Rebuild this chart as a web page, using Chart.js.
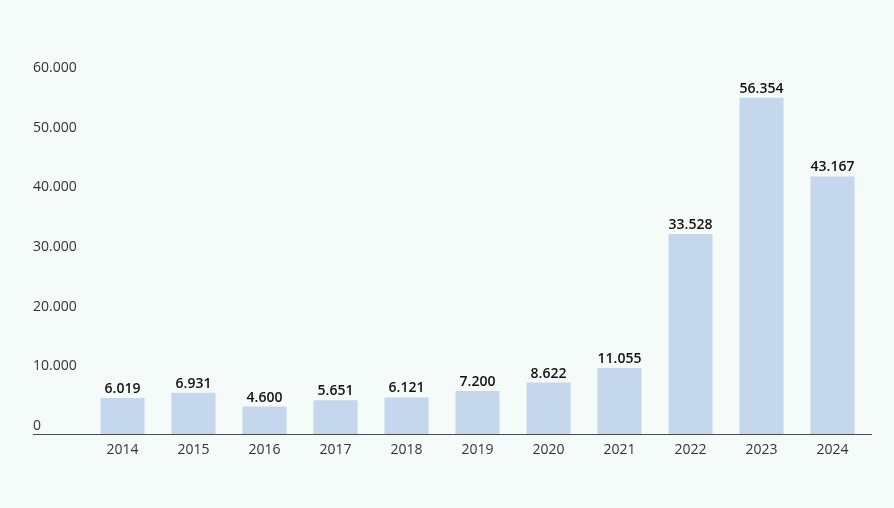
<!DOCTYPE html>
<html lang="pt-BR">
<head>
  <meta charset="UTF-8">
  <title>Evolução anual</title>
  <script src="https://cdn.jsdelivr.net/npm/chart.js@4.4.1/dist/chart.umd.min.js"></script>
  <style>
    html, body { margin: 0; padding: 0; background: #f5fbf9; }
    .chart-container { width: 894px; height: 508px; }
  </style>
</head>
<body>
  <div class="chart-container">
    <canvas id="bar-chart"></canvas>
  </div>

  <script>
    const anos = ['2014', '2015', '2016', '2017', '2018', '2019', '2020', '2021', '2022', '2023', '2024'];
    const valores = [6019, 6931, 4600, 5651, 6121, 7200, 8622, 11055, 33528, 56354, 43167];
    const yTicks = [0, 10000, 20000, 30000, 40000, 50000, 60000];

    const FONT = '"Open Sans", "Liberation Sans", sans-serif';

    // 12345 -> "12.345"
    function fmt(n) {
      return String(n).replace(/\B(?=(\d{3})+(?!\d))/g, '.');
    }

    // linha do eixo x, estendida por baixo dos rótulos do eixo y
    const baseLine = {
      id: 'baseLine',
      afterDraw(chart) {
        const ctx = chart.ctx;
        const y = chart.scales.y.getPixelForValue(0);
        ctx.save();
        ctx.strokeStyle = '#4a4a4a';
        ctx.lineWidth = 1;
        ctx.beginPath();
        ctx.moveTo(33, Math.round(y) + 0.5);
        ctx.lineTo(872, Math.round(y) + 0.5);
        ctx.stroke();
        ctx.restore();
      }
    };

    // valores em cima das barras
    const valueLabels = {
      id: 'valueLabels',
      afterDatasetsDraw(chart) {
        const ctx = chart.ctx;
        const meta = chart.getDatasetMeta(0);
        ctx.save();
        ctx.font = '600 14px ' + FONT;
        ctx.fillStyle = '#111111';
        ctx.textAlign = 'center';
        ctx.textBaseline = 'bottom';
        meta.data.forEach((bar, i) => {
          ctx.fillText(fmt(valores[i]), bar.x, bar.y - 2);
        });
        ctx.restore();
      }
    };

    new Chart(document.getElementById('bar-chart'), {
      type: 'bar',
      data: {
        labels: anos,
        datasets: [{
          data: valores,
          backgroundColor: '#c5d7ec',
          borderWidth: 0,
          barPercentage: 0.62,
          categoryPercentage: 1
        }]
      },
      options: {
        responsive: true,
        maintainAspectRatio: false,
        animation: false,
        layout: { padding: { top: 76, left: 33, right: 26, bottom: 0 } },
        plugins: {
          legend: { display: false },
          tooltip: { enabled: false }
        },
        scales: {
          x: {
            grid: { display: false, drawTicks: false },
            border: { display: false },
            ticks: {
              color: '#333333',
              font: { family: FONT, size: 14 },
              padding: 8
            },
            afterFit(scale) { scale.height = 74; }
          },
          y: {
            min: 0,
            max: 60000,
            afterBuildTicks(scale) { scale.ticks = yTicks.map(v => ({ value: v })); },
            grid: { display: false, drawTicks: false },
            border: { display: false },
            ticks: {
              color: '#333333',
              font: { family: FONT, size: 14 },
              crossAlign: 'far',
              labelOffset: -8,
              padding: 0,
              callback: (v) => fmt(v)
            },
            afterFit(scale) { scale.width = 54; }
          }
        }
      },
      plugins: [baseLine, valueLabels]
    });
  </script>
</body>
</html>
